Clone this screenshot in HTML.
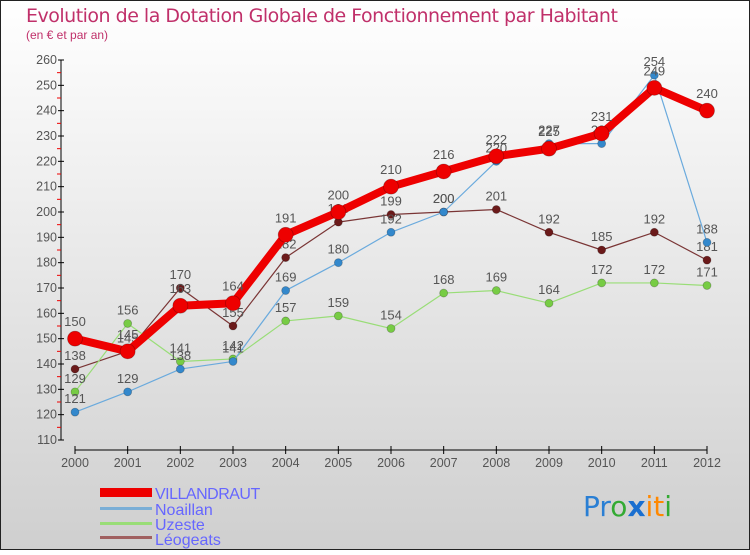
<!DOCTYPE html>
<html><head><meta charset="utf-8">
<style>
html,body{margin:0;padding:0}
body{width:750px;height:550px;overflow:hidden;font-family:"Liberation Sans",sans-serif}
</style></head>
<body>
<svg id="chart" width="750" height="550" xmlns="http://www.w3.org/2000/svg">
<defs>
<linearGradient id="bg" x1="0" y1="0" x2="0" y2="1">
<stop offset="0" stop-color="#ffffff"/><stop offset="1" stop-color="#cfcfcf"/>
</linearGradient>
</defs>
<rect x="0.5" y="0.5" width="749" height="549" fill="url(#bg)" stroke="#222" stroke-width="1"/>
<text x="26" y="22" font-size="19" fill="#c0306a" style="font-family:'DejaVu Sans',sans-serif;letter-spacing:-0.5px">Evolution de la Dotation Globale de Fonctionnement par Habitant</text>
<text x="26" y="39" font-size="12" fill="#c0306a">(en € et par an)</text>
<g id="axes"></g>
<g id="series"></g>
<g id="legend">
<rect x="100" y="488" width="52" height="9" fill="#ee0000"/>
<text x="155" y="499" font-size="16" fill="#6666ff" style="letter-spacing:-0.5px">VILLANDRAUT</text>
<rect x="100" y="507" width="52" height="3" fill="#7aaed6"/>
<text x="155" y="515" font-size="16" fill="#6666ff">Noaillan</text>
<rect x="100" y="522" width="52" height="3" fill="#99dd77"/>
<text x="155" y="530" font-size="16" fill="#6666ff">Uzeste</text>
<rect x="100" y="536" width="52" height="3" fill="#a06060"/>
<text x="155" y="545" font-size="16" fill="#6666ff">Léogeats</text>
</g>
<g font-size="28" font-family="'DejaVu Sans',sans-serif">
<text x="583" y="516"><tspan fill="#2a7fd4">Pr</tspan><tspan fill="#33aa33">o</tspan><tspan fill="#1a6fd0" font-weight="bold">x</tspan><tspan fill="#ff8800">it</tspan><tspan fill="#33aa33">i</tspan></text>
</g>
</svg>
<script>
const years=["2000","2001","2002","2003","2004","2005","2006","2007","2008","2009","2010","2011","2012"];
const yTicks=[110,120,130,140,150,160,170,180,190,200,210,220,230,240,250,260];
const villandraut=[150,145,163,164,191,200,210,216,222,225,231,249,240];
const noaillan=[121,129,138,141,169,180,192,200,220,227,227,254,188];
const uzeste=[129,156,141,142,157,159,154,168,169,164,172,172,171];
const leogeats=[138,145,170,155,182,196,199,200,201,192,185,192,181];
const NS="http://www.w3.org/2000/svg";
const x0=75,x1=707,yMin=110,yMax=260,py0=440,py1=60;
function xs(i){return x0+(x1-x0)*i/(years.length-1);}
function ys(v){return py0-(v-yMin)*(py0-py1)/(yMax-yMin);}
function mk(tag,attrs,parent){const e=document.createElementNS(NS,tag);for(const k in attrs)e.setAttribute(k,attrs[k]);parent.appendChild(e);return e;}
const axes=document.getElementById('axes');
let ya=mk('line',{x1:61,y1:py1,x2:61,y2:py0,stroke:'#000','stroke-width':1},axes);


yTicks.forEach((t,i)=>{
 const y=ys(t);
 mk('line',{x1:58,y1:y,x2:64,y2:y,stroke:'#000'},axes);
 if(i<yTicks.length-1) mk('line',{x1:57,y1:ys(t+5),x2:61,y2:ys(t+5),stroke:'#e00'},axes);
 const tx=mk('text',{x:57,y:y+4,'font-size':12.5,fill:'#555','text-anchor':'end'},axes);
 tx.textContent=t;
 
 
});
let xa=mk('line',{x1:x0,y1:450,x2:x1,y2:450,stroke:'#000','stroke-width':1},axes);


years.forEach((yr,i)=>{
 const x=xs(i);
 mk('line',{x1:x,y1:446,x2:x,y2:454,stroke:'#000'},axes);
 const tx=mk('text',{x:x,y:467,'font-size':12.5,fill:'#555','text-anchor':'middle'},axes);
 tx.textContent=yr;
 
 
});
const seriesG=document.getElementById('series');
function draw(name,vals,color,dot,w,r,labelColor){
 const g=mk('g',{},seriesG);
 
 
 const pts=vals.map((v,i)=>xs(i)+','+ys(v)).join(' ');
 const pl=mk('polyline',{points:pts,fill:'none',stroke:color,'stroke-width':w,'stroke-linejoin':'round'},g);
 
 
 vals.forEach((v,i)=>{
  const c=mk('circle',{cx:xs(i),cy:ys(v),r:r,fill:dot,stroke:'rgba(0,0,0,0.25)','stroke-width':0.8},g);
  
  
  const t=mk('text',{x:xs(i),y:ys(v)-(r+5),'font-size':13,fill:labelColor,'text-anchor':'middle'},g);
  t.textContent=v;
  
  
 });
}
draw('leogeats',leogeats,'#7a3535','#6b1a1a',1.2,4,'#555');
draw('uzeste',uzeste,'#99dd77','#77cc44',1.2,4,'#555');
draw('noaillan',noaillan,'#6aaadd','#3388cc',1.2,4,'#555');
draw('villandraut',villandraut,'#ee0000','#ee0000',8,7.5,'#555');
</script>
</body></html>
